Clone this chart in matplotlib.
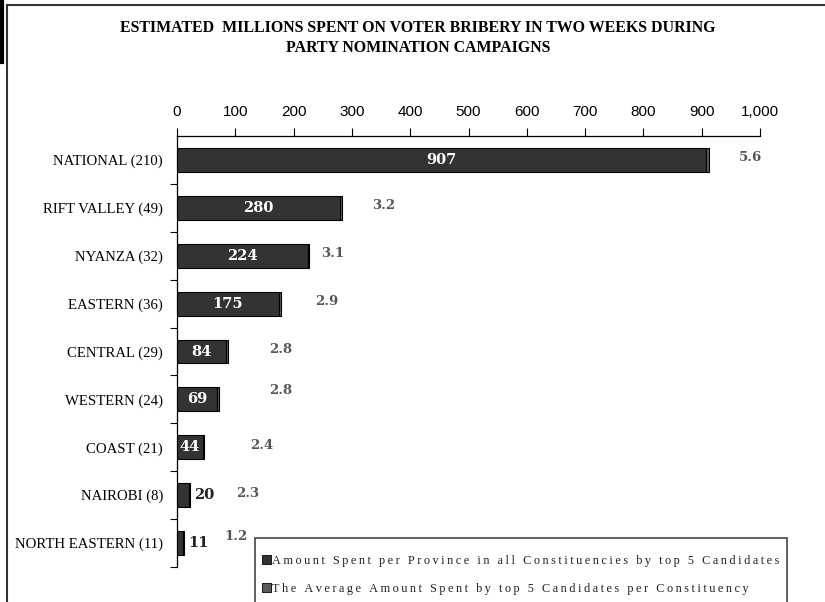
import matplotlib
matplotlib.use("Agg")
import matplotlib.pyplot as plt
from matplotlib.patches import Patch, Rectangle
from matplotlib import font_manager

categories = ["NATIONAL (210)", "RIFT VALLEY (49)", "NYANZA (32)", "EASTERN (36)",
              "CENTRAL (29)", "WESTERN (24)", "COAST (21)", "NAIROBI (8)",
              "NORTH EASTERN (11)"]
amount = [907, 280, 224, 175, 84, 69, 44, 20, 11]
average = [5.6, 3.2, 3.1, 2.9, 2.8, 2.8, 2.4, 2.3, 1.2]
xticks = [0, 100, 200, 300, 400, 500, 600, 700, 800, 900, 1000]
xtick_labels = ["0", "100", "200", "300", "400", "500", "600", "700", "800", "900", "1,000"]
title = "ESTIMATED  MILLIONS SPENT ON VOTER BRIBERY IN TWO WEEKS DURING\nPARTY NOMINATION CAMPAIGNS"
legend_labels = ["Amount Spent per Province in all Constituencies by top 5 Candidates",
                 "The Average Amount Spent by top 5 Candidates per Constituency"]

# label placement (style only)
avg_dx = [30, 30, 12, 34, 42, 50, 46, 46, 40]     # px right of bar end
avg_dy = [0, 0, 0, 0, 0, 7, 0, 0, 5]              # px up

installed = {f.name for f in font_manager.fontManager.ttflist}
narrow = "Liberation Sans Narrow" if "Liberation Sans Narrow" in installed else "Liberation Sans"
serif = "Liberation Serif"
wide_serif = "DejaVu Serif"


def spaced(s):
    return "\u2009".join(s)


W, H = 825, 602
fig = plt.figure(figsize=(W / 100, H / 100), dpi=100)

# outer frame lines
fig.add_artist(plt.Line2D([7 / W, 7 / W], [0, 1 - 5 / H], color="#333333", lw=1.5))
fig.add_artist(plt.Line2D([7 / W, 1], [1 - 5 / H, 1 - 5 / H], color="#333333", lw=1.5))
fig.add_artist(plt.Line2D([1.5 / W, 1.5 / W], [1, 1 - 62 / H], color="black", lw=3))

ax = fig.add_axes([177 / W, 1 - 567 / H, (760 - 177) / W, (567 - 136) / H])
y = list(range(len(categories)))
dark = "#333333"
gray = "#5a5a5a"
ax.barh(y, amount, height=0.5, color=dark, edgecolor="black", linewidth=0.8, zorder=3)
ax.barh(y, average, left=amount, height=0.5, color=gray, edgecolor="black", linewidth=0.8, zorder=3)

ax.set_xlim(0, 1000)
ax.set_ylim(len(categories) - 0.5, -0.5)
ax.xaxis.tick_top()
ax.set_xticks(xticks)
ax.set_xticklabels(xtick_labels, fontfamily=narrow, fontsize=11)
ax.tick_params(axis="x", direction="out", length=6, width=0.8, pad=6, color="black")
ax.set_yticks(y)
ax.set_yticklabels(categories, fontfamily=serif, fontsize=10.6)
ax.tick_params(axis="y", which="major", length=0, pad=10)
ax.set_yticks([i + 0.5 for i in range(len(categories))], minor=True)
ax.tick_params(axis="y", which="minor", direction="out", length=5, width=0.8)
for s in ["right", "bottom"]:
    ax.spines[s].set_visible(False)
ax.spines["top"].set_linewidth(0.9)
ax.spines["left"].set_linewidth(0.9)

for i, (a, v) in enumerate(zip(amount, average)):
    if a >= 40:
        ax.text(a / 2, i, str(a), ha="center", va="center", color="white",
                fontfamily=wide_serif, fontweight="bold", fontsize=10.5, zorder=4)
    else:
        ax.annotate(str(a), (a + v, i), xytext=(4, 0), textcoords="offset pixels",
                    ha="left", va="center", color="#222222", fontfamily=wide_serif,
                    fontweight="bold", fontsize=10.5)
    ax.annotate(f"{v:.1f}", (a + v, i), xytext=(avg_dx[i], avg_dy[i] + 2),
                textcoords="offset pixels", ha="left", va="center", color="#555555",
                fontfamily=wide_serif, fontweight="bold", fontsize=9.5)

fig.text(418 / W, 1 - 38 / H, title, ha="center", va="center", fontfamily=serif,
         fontweight="bold", fontsize=11.4, linespacing=1.3)

# legend frame (extends below the figure edge)
fig.add_artist(Rectangle((255 / W, -0.05), (787 - 255) / W, 0.05 + (602 - 538) / H,
                         transform=fig.transFigure, facecolor="white",
                         edgecolor="#444444", linewidth=1.2, zorder=5))
handles = [Patch(facecolor=dark, edgecolor="black", linewidth=0.6),
           Patch(facecolor=gray, edgecolor="black", linewidth=0.6)]
leg = fig.legend(handles, [spaced(s) for s in legend_labels], loc="upper left",
                 bbox_to_anchor=(262 / W, 1 - 555 / H),
                 frameon=False, handlelength=0.7, handleheight=0.7, handletextpad=0.15,
                 borderpad=0, labelspacing=1.3, borderaxespad=0,
                 prop={"family": [serif, "DejaVu Serif"], "size": 8.8})
leg.set_zorder(6)
for t in leg.get_texts():
    t.set_color("#222222")

fig.savefig("out.png", dpi=100)
